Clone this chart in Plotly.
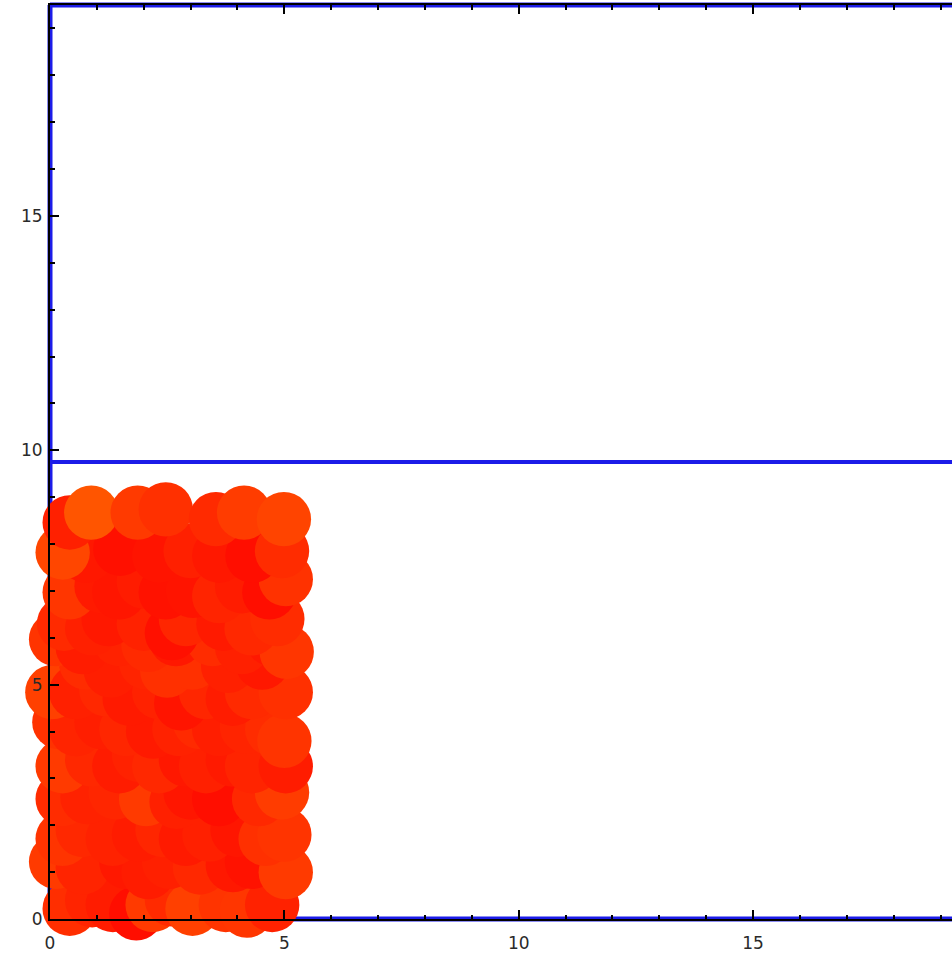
import plotly.graph_objects as go

# ---- data: disk centres (rows from bottom to top) and colours ----
disk_x = [
    0.42, 0.90, 1.34, 1.84, 2.19, 2.60, 3.04, 3.75, 4.20, 4.74,
    0.13, 0.70, 1.63, 2.10, 2.54, 3.20, 3.90, 4.31, 5.03,
    0.27, 0.70, 1.34, 1.90, 2.40, 2.90, 3.40, 4.00, 4.60, 5.00,
    0.27, 0.80, 1.40, 2.05, 2.70, 3.00, 3.61, 4.46, 4.95,
    0.27, 0.90, 1.48, 1.90, 2.33, 2.90, 3.33, 3.90, 4.31, 5.03,
    0.20, 0.56, 1.10, 1.63, 2.20, 2.76, 3.20, 3.61, 4.20, 4.74, 5.00,
    0.05, 0.56, 1.20, 1.70, 2.33, 2.80, 3.33, 3.90, 4.31, 5.03,
    0.77, 1.30, 2.05, 2.50, 3.04, 3.80, 4.53,
    0.13, 0.70, 1.48, 2.10, 2.69, 3.47, 4.10, 4.74, 5.05,
    0.30, 0.90, 1.25, 2.00, 2.60, 2.90, 3.70, 4.30, 4.85,
    0.42, 1.10, 1.48, 2.00, 2.47, 3.05, 3.61, 4.10, 4.68, 5.03,
    0.77, 1.50, 2.33, 3.00, 3.61, 4.32, 4.95,
    0.27, 0.42, 0.88, 1.87, 2.47, 3.54, 4.14, 4.99,
]
disk_y = [
    0.22, 0.40, 0.30, 0.12, 0.30, 0.42, 0.22, 0.30, 0.18, 0.30,
    1.22, 1.10, 1.22, 1.00, 1.22, 1.10, 1.15, 1.22, 1.00,
    1.71, 1.90, 1.71, 1.80, 1.90, 1.71, 1.80, 1.90, 1.71, 1.80,
    2.56, 2.60, 2.70, 2.56, 2.50, 2.70, 2.56, 2.56, 2.70,
    3.26, 3.40, 3.26, 3.50, 3.26, 3.40, 3.26, 3.40, 3.26, 3.26,
    4.20, 4.05, 4.20, 4.05, 4.00, 4.05, 4.20, 4.05, 4.10, 4.05, 3.80,
    4.84, 4.84, 4.90, 4.70, 4.84, 4.60, 4.84, 4.70, 4.84, 4.84,
    5.47, 5.30, 5.47, 5.30, 5.47, 5.40, 5.47,
    5.97, 5.80, 5.97, 5.85, 5.97, 5.97, 5.80, 5.97, 5.70,
    6.30, 6.20, 6.40, 6.30, 6.10, 6.40, 6.30, 6.20, 6.40,
    6.97, 7.10, 6.97, 7.20, 6.97, 7.00, 6.89, 7.10, 6.97, 7.25,
    7.75, 7.90, 7.75, 7.85, 7.75, 7.75, 7.85,
    7.82, 8.46, 8.67, 8.67, 8.74, 8.53, 8.67, 8.53,
]
disk_color = [
    "#FF2E00", "#FF2400", "#FF1C00", "#FF0E00", "#FF3A00", "#FF2A00", "#FF4000", "#FF3400", "#FF3600", "#FF2200",
    "#FF3A00", "#FF2400", "#FF1800", "#FF1C00", "#FF2000", "#FF2800", "#FF1800", "#FF1200", "#FF3A00",
    "#FF3400", "#FF2800", "#FF2200", "#FF1C00", "#FF2600", "#FF1A00", "#FF2000", "#FF1600", "#FF3000", "#FF3400",
    "#FF2C00", "#FF2200", "#FF2600", "#FF3A00", "#FF2000", "#FF1600", "#FF0E00", "#FF2800", "#FF3C00",
    "#FF3A00", "#FF2800", "#FF1C00", "#FF2200", "#FF2800", "#FF1800", "#FF2000", "#FF1A00", "#FF2400", "#FF1C00",
    "#FF3200", "#FF2400", "#FF1E00", "#FF2600", "#FF1A00", "#FF2200", "#FF2A00", "#FF1E00", "#FF2400", "#FF2C00", "#FF3400",
    "#FF4000", "#FF2000", "#FF2800", "#FF1A00", "#FF2200", "#FF1400", "#FF2600", "#FF1C00", "#FF2A00", "#FF3000",
    "#FF2C00", "#FF1E00", "#FF2400", "#FF3000", "#FF3000", "#FF2000", "#FF1800",
    "#FF3400", "#FF1C00", "#FF2200", "#FF2A00", "#FF1800", "#FF2C00", "#FF2000", "#FF1800", "#FF3600",
    "#FF2A00", "#FF2000", "#FF1800", "#FF2200", "#FF1000", "#FF2600", "#FF1A00", "#FF2800", "#FF2C00",
    "#FF3600", "#FF1A00", "#FF1600", "#FF1C00", "#FF1200", "#FF1400", "#FF2400", "#FF1C00", "#FF0E00", "#FF3200",
    "#FF1800", "#FF1000", "#FF1400", "#FF2000", "#FF1800", "#FF0E00", "#FF2C00",
    "#FF4600", "#FF2000", "#FF5500", "#FF3A00", "#FF3000", "#FF2A00", "#FF3C00", "#FF4400",
]
disk_radius = 0.58

box_height = 19.5          # blue frame height
mid_line = 9.75            # blue divider
x_ticks = [0, 5, 10, 15]
y_ticks = [0, 5, 10, 15]

# ---- layout geometry ----
W, H = 952, 953
ml, mr, mt, mb = 50, 0, 5, 34
plot_w = W - ml - mr
plot_h = H - mt - mb
ppu = plot_h / box_height          # pixels per data unit (equal aspect)
x_max = plot_w / ppu

blue = "rgb(28,28,232)"

fig = go.Figure()
fig.add_trace(go.Scatter(
    x=disk_x, y=disk_y, mode="markers",
    marker=dict(size=2 * disk_radius * ppu, color=disk_color, line=dict(width=0), opacity=1),
    cliponaxis=False, hoverinfo="skip", showlegend=False,
))

# blue frame lines (paper referenced: the plot area is the frame)
for (x0, y0, x1, y1) in [(0, 0, 0, 1), (0, 0, 1, 0), (0, 1, 1, 1)]:
    fig.add_shape(type="line", xref="paper", yref="paper", x0=x0, y0=y0, x1=x1, y1=y1,
                  line=dict(color=blue, width=5), layer="below")
fig.add_shape(type="line", xref="paper", yref="y", x0=0, x1=1, y0=mid_line, y1=mid_line,
              line=dict(color=blue, width=4), layer="below")

tickfont = dict(family="DejaVu Sans, Verdana, sans-serif", size=17, color="#2a2a2a")
common = dict(
    showgrid=False, zeroline=False, showline=True, linecolor="black", linewidth=2,
    ticks="inside", ticklen=9, tickwidth=1.5, tickcolor="black",
    minor=dict(ticks="inside", dtick=1, ticklen=4.5, tickwidth=1.5, tickcolor="black"),
    tickfont=tickfont, tickmode="array",
)
fig.update_xaxes(range=[0, x_max], tickvals=x_ticks, ticktext=[str(v) for v in x_ticks],
                 mirror="ticks", ticklabelstandoff=8, **common)
fig.update_yaxes(range=[0, box_height], tickvals=y_ticks, ticktext=[str(v) for v in y_ticks],
                 ticklabelstandoff=2, **common)

fig.update_layout(
    width=W, height=H, margin=dict(l=ml, r=mr, t=mt, b=mb, pad=0),
    plot_bgcolor="rgba(0,0,0,0)", paper_bgcolor="white", showlegend=False,
)
fig.write_html("out.html", config={"displayModeBar": False},
               post_script="document.body.style.margin='0px';document.body.style.overflow='hidden';")
